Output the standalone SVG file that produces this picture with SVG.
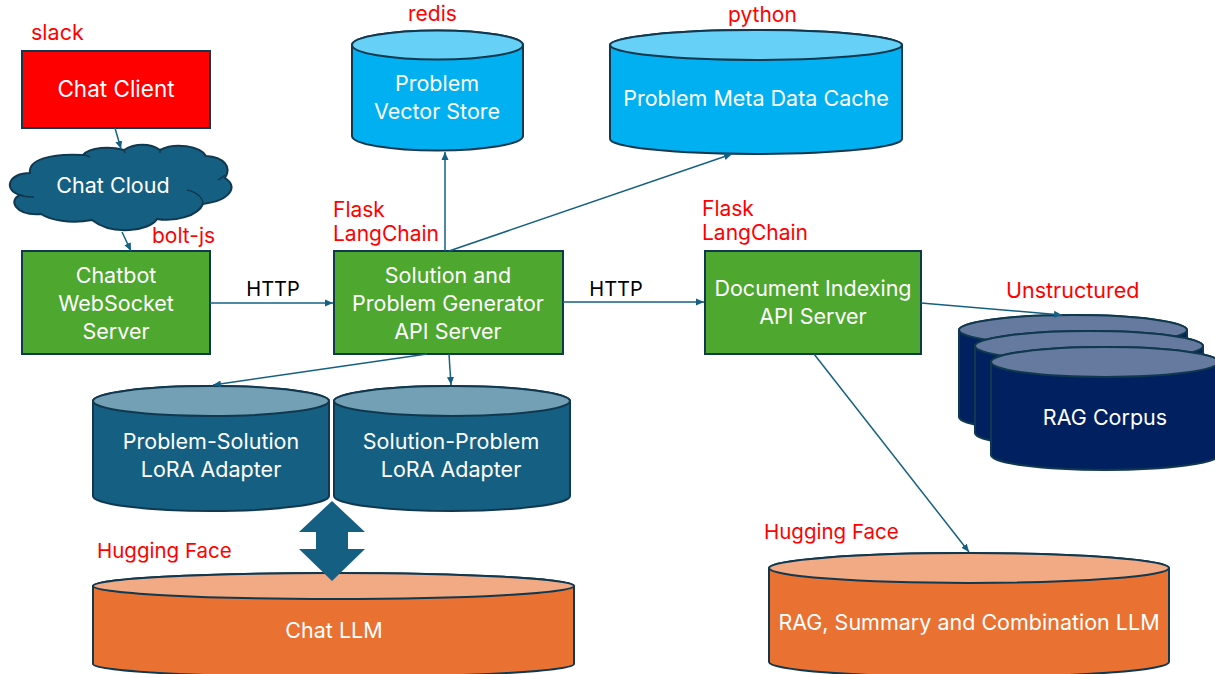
<svg xmlns="http://www.w3.org/2000/svg" width="1215" height="674" viewBox="0 0 1215 674">
<style>
text{font-family:"Inter","Open Sans",sans-serif;font-size:21.500px;text-anchor:middle}
.w{fill:#fff}.r{fill:#f00;text-anchor:start;font-size:21px}.k{fill:#000;font-size:20px}
.s{stroke:#10384f;stroke-width:2}
.g{fill:#4ea72e}.b{fill:#156082}.bt{fill:#73a0b4}.c{fill:#00b0f0}.ct{fill:#66d0f6}
.o{fill:#e97132}.ot{fill:#f2aa84}.n{fill:#002060}.nt{fill:#667aa0}
.l{fill:none;stroke:#156082;stroke-width:1.5;marker-end:url(#a)}
</style>
<defs>
<marker id="a" markerWidth="9" markerHeight="8" refX="8" refY="4" orient="auto" markerUnits="userSpaceOnUse"><path d="M0 0.500L8 4L0 7.500Z" fill="#156082"/></marker>
</defs>
<rect width="1215" height="674" fill="#fff"/>
<g id="chat-client"><rect class="s" x="22" y="51" width="188" height="77" fill="#f00"/><text class="w" x="116" y="97" style="font-size:22.500px">Chat Client</text></g>
<g id="chat-cloud"><path class="s b" d="M30 173C28 160 50 153 83 155C90 147 110 146 124 150C135 143 150 143 160 150C175 142 200 146 206 156C224 157 232 167 225 178C238 186 232 200 203 204C198 216 175 222 157 219C150 231 112 236 92 220C70 224 50 220 41 214C15 216 8 200 20 195C3 190 8 173 30 173Z"/><path fill="none" stroke="#10384f" stroke-width="1.500" d="M20 195C24 197 29 197 34 197M187 190C197 192 203 198 203 204M218 180C221 178 223 177 225 175M83 155C86 155 88 156 90 157M124 150L125 153M160 150L160 153M41 214L40 213"/><text class="w" x="113" y="193">Chat Cloud</text></g>
<g id="chatbot-server"><rect class="s g" x="22" y="251" width="188" height="103"/><text class="w" x="116" y="283">Chatbot</text><text class="w" x="116" y="311">WebSocket</text><text class="w" x="116" y="339">Server</text></g>
<g id="generator-server"><rect class="s g" x="334" y="251" width="229" height="103"/><text class="w" x="448" y="283">Solution and</text><text class="w" x="448" y="311">Problem Generator</text><text class="w" x="448" y="339">API Server</text></g>
<g id="indexing-server"><rect class="s g" x="705" y="251" width="216" height="103"/><text class="w" x="813" y="296">Document Indexing</text><text class="w" x="813" y="324">API Server</text></g>
<g id="vector-store"><path class="s c" d="M352 45A85.500 14.500 0 0 1 523 45V136A85.500 14.500 0 0 1 352 136Z"/><ellipse class="s ct" cx="437.500" cy="45" rx="85.500" ry="14.500"/><text class="w" x="437" y="91">Problem</text><text class="w" x="437" y="119">Vector Store</text></g>
<g id="meta-cache"><path class="s c" d="M610 45A146 15 0 0 1 902 45V139A146 15 0 0 1 610 139Z"/><ellipse class="s ct" cx="756" cy="45" rx="146" ry="15"/><text class="w" x="756" y="106">Problem Meta Data Cache</text></g>
<g id="ps-adapter"><path class="s b" d="M93 401A118 15 0 0 1 329 401V496A118 15 0 0 1 93 496Z"/><ellipse class="s bt" cx="211" cy="401" rx="118" ry="15"/><text class="w" x="211" y="449">Problem-Solution</text><text class="w" x="211" y="477">LoRA Adapter</text></g>
<g id="sp-adapter"><path class="s b" d="M334 401A118 15 0 0 1 570 401V496A118 15 0 0 1 334 496Z"/><ellipse class="s bt" cx="452" cy="401" rx="118" ry="15"/><text class="w" x="451" y="449">Solution-Problem</text><text class="w" x="451" y="477">LoRA Adapter</text></g>
<g id="chat-llm"><path class="s o" d="M93 586A240.500 13 0 0 1 574 586V664A240.500 13 0 0 1 93 664Z"/><ellipse class="s ot" cx="333.500" cy="586" rx="240.500" ry="13"/><text class="w" x="334" y="638">Chat LLM</text></g>
<g id="exchange-arrow"><path fill="#156082" d="M332 501L365 532H348V549H365L332 581L299 549H316V532H299Z"/></g>
<g id="rag-llm"><path class="s o" d="M769 568A200 15 0 0 1 1169 568V662A200 15 0 0 1 769 662Z"/><ellipse class="s ot" cx="969" cy="568" rx="200" ry="15"/><text class="w" x="969" y="630">RAG, Summary and Combination LLM</text></g>
<g id="rag-corpus"><path class="s n" d="M959 330A114 15 0 0 1 1187 330V417A114 15 0 0 1 959 417Z"/><ellipse class="s nt" cx="1073" cy="330" rx="114" ry="15"/><path class="s n" d="M975 346A114 15 0 0 1 1203 346V433A114 15 0 0 1 975 433Z"/><ellipse class="s nt" cx="1089" cy="346" rx="114" ry="15"/><path class="s n" d="M991 362A114 15 0 0 1 1219 362V455A114 15 0 0 1 991 455Z"/><ellipse class="s nt" cx="1105" cy="362" rx="114" ry="15"/><text class="w" x="1105" y="425">RAG Corpus</text></g>
<g id="connectors">
<path class="l" d="M115 128L121 149"/><path class="l" d="M122 232L131 251"/><path class="l" d="M210 303L333 303"/><path class="l" d="M563 302L704 302"/><path class="l" d="M445 251V152"/><path class="l" d="M449 251L732 154"/><path class="l" d="M427 354L213 385"/><path class="l" d="M449 354L451 385"/><path class="l" d="M921 303L1062 315"/><path class="l" d="M814 354L969 552"/>
</g>
<g id="labels">
<text class="r" x="31" y="40" style="font-size:21.500px">slack</text><text class="r" x="152" y="243">bolt-js</text><text class="r" x="408" y="21">redis</text><text class="r" x="728" y="22">python</text><text class="r" x="333" y="217">Flask</text><text class="r" x="333" y="241">LangChain</text><text class="r" x="702" y="216">Flask</text><text class="r" x="702" y="240">LangChain</text><text class="r" x="1006" y="298" style="font-size:21.500px">Unstructured</text><text class="r" x="97" y="558" style="font-size:20.500px">Hugging Face</text><text class="r" x="764" y="539" style="font-size:20.500px">Hugging Face</text><text class="k" x="273" y="296">HTTP</text><text class="k" x="616" y="296">HTTP</text>
</g>
</svg>
